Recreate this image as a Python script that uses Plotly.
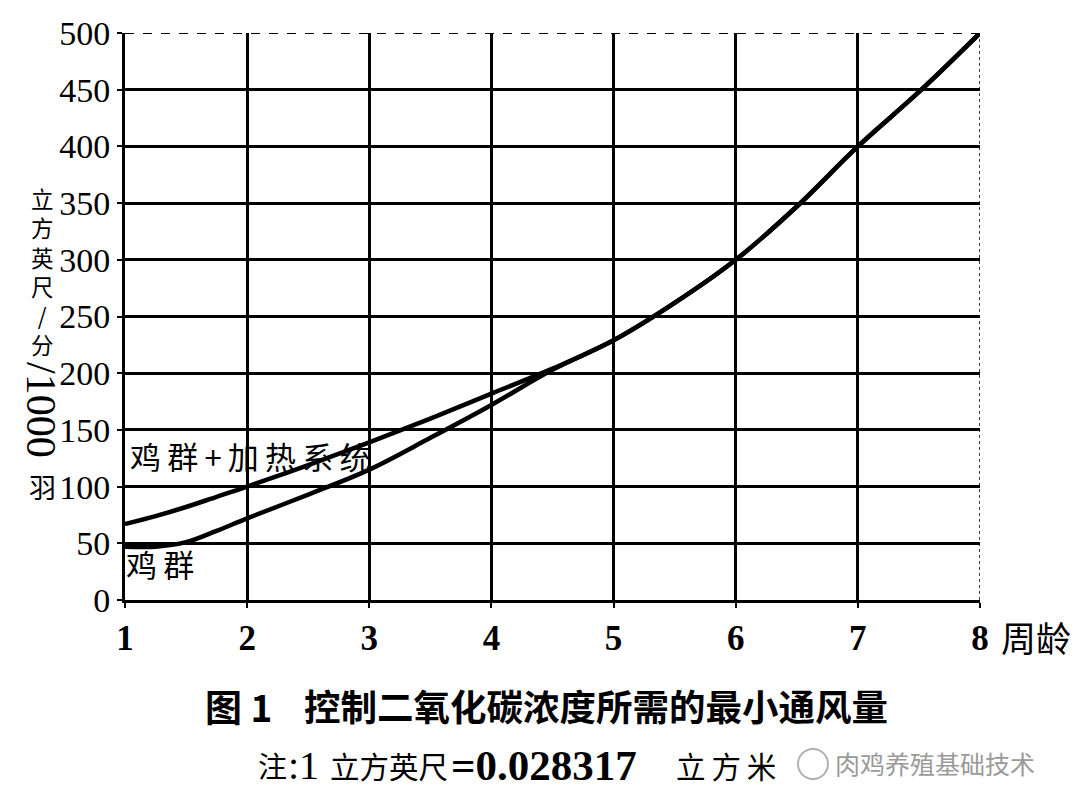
import plotly.graph_objects as go

# ---- data ----
weeks = [1, 1.25, 1.5, 1.75, 2, 2.5, 3, 3.5, 4, 4.5, 5, 5.5, 6, 6.5, 7, 7.5, 8]
flock_heating = [67, 74, 82, 91, 100, 119, 139, 160, 182, 204, 229, 262, 300, 347, 400, 448, 500]
flock = [47, 47, 51, 61, 72, 93, 115, 143, 172, 203, 229, 262, 300, 347, 400, 448, 500]
series_names = ["鸡群+加热系统", "鸡群"]
x_ticks = [1, 2, 3, 4, 5, 6, 7, 8]
y_ticks = [0, 50, 100, 150, 200, 250, 300, 350, 400, 450, 500]

W, H = 1080, 810
OFF = 8  # page body margin offset
PX0, PX1, PY0, PY1 = 125, 980, 33, 600  # plot area in reference pixels
L = PX0 - OFF
T = PY0 - OFF
R = W - PX1 + OFF
B = H - PY1 + OFF


def px(xp):
    return (xp - PX0) / (PX1 - PX0)


def py(yp):
    return (PY1 - yp) / (PY1 - PY0)


SERIF = "Liberation Serif"
CJK = "Noto Sans CJK SC"
TS = "\u2009"

fig = go.Figure()
for name, ys in zip(series_names, [flock_heating, flock]):
    fig.add_trace(go.Scatter(
        x=weeks, y=ys, mode="lines", name=name,
        line=dict(color="black", width=4.5, shape="spline", smoothing=1.0),
        showlegend=False,
    ))

# dashed-looking top / right frame edges
fig.add_shape(type="line", xref="x", yref="y", x0=1, x1=8, y0=500, y1=500,
              line=dict(color="black", width=2, dash="dash"), layer="below")
fig.add_shape(type="line", xref="x", yref="y", x0=8, x1=8, y0=0, y1=500,
              line=dict(color="black", width=1.5, dash="dot"), layer="below")

fig.update_xaxes(
    range=[1, 8], tickvals=x_ticks, ticktext=["<b>%d</b>" % v for v in x_ticks],
    showgrid=True, gridcolor="black", gridwidth=2.5,
    showline=True, linecolor="black", linewidth=3,
    ticks="outside", ticklen=5, tickwidth=2, tickcolor="black",
    tickfont=dict(family=SERIF, size=35, color="black"),
    zeroline=False, fixedrange=True,
)
fig.update_yaxes(
    range=[0, 500], tickvals=y_ticks, ticktext=[str(v) for v in y_ticks],
    showgrid=True, gridcolor="black", gridwidth=2.5,
    showline=True, linecolor="black", linewidth=3,
    ticks="outside", ticklen=5, tickwidth=2, tickcolor="black",
    tickfont=dict(family=SERIF, size=34, color="black"),
    zeroline=False, fixedrange=True,
)

ann = []


def text_at(x, y, text, size, family=CJK, anchor="left", color="black", angle=0):
    ann.append(dict(xref="paper", yref="paper", x=px(x), y=py(y), text=text,
                    showarrow=False, xanchor=anchor, yanchor="middle", textangle=angle,
                    font=dict(family=family, size=size, color=color)))


# in-plot series labels
text_at(128, 455, TS.join(["鸡", "群", "+", "加", "热", "系", "统"]), 31)
text_at(124, 563, TS.join(["鸡", "群"]), 31)
# x-axis unit
text_at(999, 636, "周龄", 35)
# y-axis title (vertical, mixed orientation)
ann.append(dict(xref="paper", yref="paper", x=px(42), y=py(181), yanchor="top", xanchor="center",
                text="立<br>方<br>英<br>尺<br>/<br>分", showarrow=False, borderpad=0,
                font=dict(family=CJK, size=22.5, color="black")))
text_at(41, 410, "/1000", 42, family=SERIF, anchor="center", angle=90)
text_at(42, 486, "羽", 27, anchor="center")
# caption
text_at(203, 706, "<b>图 1</b>", 37)
text_at(302, 706, "<b>控制二氧化碳浓度所需的最小通风量</b>", 36.5)
# note
text_at(256, 765, "注", 29)
text_at(286, 765, ":1", 40, family=SERIF)
text_at(328, 765, "立方英尺", 29.5)
text_at(449, 765, "<b>=0.028317</b>", 43, family=SERIF)
text_at(674, 765, "立" + TS + "方" + TS + "米", 29.5)
# watermark
fig.add_shape(type="circle", xref="paper", yref="paper",
              x0=px(798), x1=px(828), y0=py(779), y1=py(749),
              line=dict(color="#b0b0b0", width=2), fillcolor="rgba(255,255,255,0.75)")
text_at(833, 763, "肉鸡养殖基础技术", 25, color="#9a9a9a")

fig.update_layout(
    width=W, height=H,
    margin=dict(l=L, r=R, t=T, b=B, autoexpand=False),
    paper_bgcolor="white", plot_bgcolor="white",
    annotations=ann,
)

fig.write_html("out.html")
